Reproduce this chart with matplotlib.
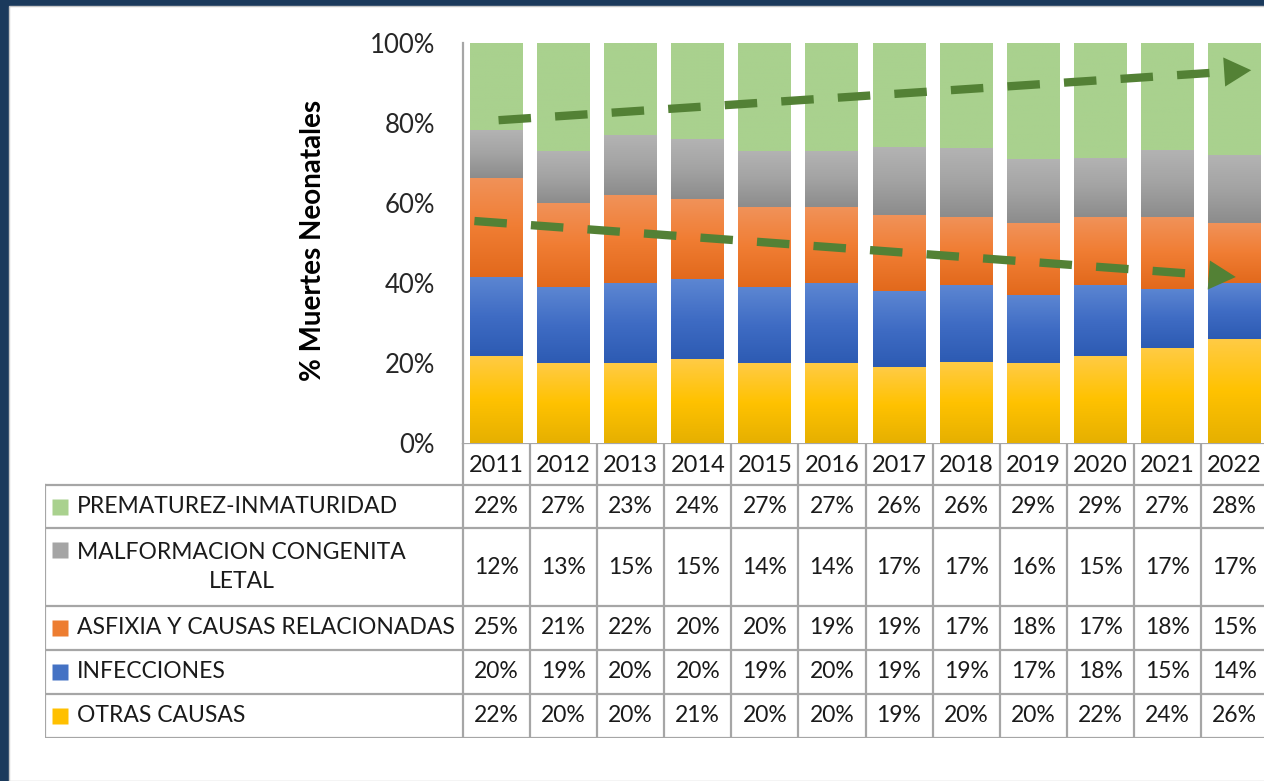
import numpy as np
import matplotlib
matplotlib.use('Agg')
import matplotlib.pyplot as plt
from matplotlib.colors import LinearSegmentedColormap
from matplotlib.patches import Rectangle

plt.rcParams['font.family'] = ['Lato', 'DejaVu Sans']

years = ['2011', '2012', '2013', '2014', '2015', '2016',
         '2017', '2018', '2019', '2020', '2021', '2022']

categories = ['PREMATUREZ-INMATURIDAD', 'MALFORMACION CONGENITA\nLETAL',
              'ASFIXIA Y CAUSAS RELACIONADAS', 'INFECCIONES', 'OTRAS CAUSAS']

prematurez = [22, 27, 23, 24, 27, 27, 26, 26, 29, 29, 27, 28]
malformacion = [12, 13, 15, 15, 14, 14, 17, 17, 16, 15, 17, 17]
asfixia = [25, 21, 22, 20, 20, 19, 19, 17, 18, 17, 18, 15]
infecciones = [20, 19, 20, 20, 19, 20, 19, 19, 17, 18, 15, 14]
otras = [22, 20, 20, 21, 20, 20, 19, 20, 20, 22, 24, 26]

# trend arrows (start, tip) in (year index, %)
trend_up = [(0.03, 80.7), (11.25, 93.2)]
trend_down = [(-0.33, 55.5), (11.02, 41.5)]

# gradient stops top -> bottom, and flat legend colour
styles = {
    'otras': (['#FFCB45', '#FFC200', '#E6B000'], '#FFC000'),
    'infecciones': (['#5C86D2', '#3F6CC4', '#2D5BB3'], '#4472C4'),
    'asfixia': (['#F19259', '#F07D33', '#E2691C'], '#ED7D31'),
    'malformacion': (['#B3B3B3', '#A3A3A3', '#8C8C8C'], '#A5A5A5'),
    'prematurez': (['#A9D18E', '#A9D18E', '#A9D18E'], '#A9D18E'),
}

W, H = 1264, 781
fig = plt.figure(figsize=(W / 100, H / 100), dpi=100, facecolor='#1B3A5C')
fig.patches.append(Rectangle((9 / W, 0), 1, 1 - 6 / H, transform=fig.transFigure,
                             facecolor='white', edgecolor='#C8C8C8', lw=1, zorder=-5))

unit = (1268 - 463) / 12
ax = fig.add_axes([463 / W, 1 - 443 / H, 805 / W, 400 / H])
ax.set_facecolor('none')

series = [('otras', otras), ('infecciones', infecciones), ('asfixia', asfixia),
          ('malformacion', malformacion), ('prematurez', prematurez)]
tot = np.sum([np.array(v) for _, v in series], axis=0).astype(float)
x = np.arange(len(years))
bottom = np.zeros(len(years))
for name, vals in series:
    h = np.array(vals) / tot * 100
    bars = ax.bar(x, h, 0.79, bottom=bottom, color=styles[name][1], lw=0, zorder=2)
    cmap = LinearSegmentedColormap.from_list(name, styles[name][0][::-1])
    grad = np.linspace(0, 1, 128).reshape(-1, 1)
    for b in bars:
        x0, y0 = b.get_x(), b.get_y()
        im = ax.imshow(grad, cmap=cmap, aspect='auto', origin='lower',
                       extent=(x0, x0 + b.get_width(), y0, y0 + b.get_height()), zorder=3)
        im.set_clip_path(b)
    bottom += h

ax.set_xlim(-0.5, 11.5)
ax.set_ylim(0, 100)
ax.set_yticks([0, 20, 40, 60, 80, 100])
ax.set_yticklabels(['0%', '20%', '40%', '60%', '80%', '100%'], fontsize=18.5, color='#262626')
ax.tick_params(axis='y', length=0, pad=20)
ax.set_xticks([])
for s in ['top', 'right', 'bottom']:
    ax.spines[s].set_visible(False)
ax.spines['left'].set_color('#A6A6A6')
ax.spines['left'].set_linewidth(1.6)

green = '#538135'
for (p0, p1) in [trend_up, trend_down]:
    d = np.array(p1) - np.array(p0)
    base = np.array(p1) - d * 0.03
    ax.plot([p0[0], base[0]], [p0[1], base[1]], color=green, lw=6,
            dashes=(3.9, 2.9), solid_capstyle='butt', dash_capstyle='butt', zorder=5)
    ax.annotate('', xy=p1, xytext=tuple(base),
                arrowprops=dict(arrowstyle='-|>,head_length=0.65,head_width=0.35',
                                mutation_scale=30, color=green, lw=0,
                                shrinkA=0, shrinkB=0), zorder=6)

fig.text(313 / W, 1 - 240 / H, '% Muertes Neonatales', rotation=90, fontsize=20,
         fontweight='bold', ha='center', va='center', color='black')

# data table
tab = fig.add_axes([45 / W, 1 - 738 / H, (1268 - 45) / W, 295 / H])
tab.axis('off')
xl = -0.5 - (463 - 45) / unit
tab.set_xlim(xl, 11.5)
tab.set_ylim(295, 0)
rows = [0, 42, 85, 163, 207, 251, 295]
lc = '#A6A6A6'
tab.plot([-0.5, 11.5], [rows[0], rows[0]], color=lc, lw=1.6)
for r in rows[1:]:
    tab.plot([xl, 11.5], [r, r], color=lc, lw=1.6)
for k in range(13):
    tab.plot([-0.5 + k, -0.5 + k], [0, 295], color=lc, lw=1.6)
tab.plot([xl, xl], [rows[1], 295], color=lc, lw=1.6)

for i, yr in enumerate(years):
    tab.text(i, 22, yr, ha='center', va='center', fontsize=17, color='#1a1a1a')

table_rows = [prematurez, malformacion, asfixia, infecciones, otras]
names = ['prematurez', 'malformacion', 'asfixia', 'infecciones', 'otras']
for j, (label, vals, nm) in enumerate(zip(categories, table_rows, names)):
    ymid = (rows[j + 1] + rows[j + 2]) / 2
    for i, v in enumerate(vals):
        tab.text(i, ymid, f'{v}%', ha='center', va='center', fontsize=16.5, color='#1a1a1a')
    my = ymid if '\n' not in label else rows[j + 1] + 22
    tab.plot([xl + 15 / unit], [my], marker='s', ms=11, color=styles[nm][1], mec='none')
    tab.text(xl + 32 / unit, ymid, label, ha='left', va='center', fontsize=16.5,
             multialignment='center', color='#1a1a1a', linespacing=1.45)

fig.savefig('out.png', dpi=100, facecolor=fig.get_facecolor())
